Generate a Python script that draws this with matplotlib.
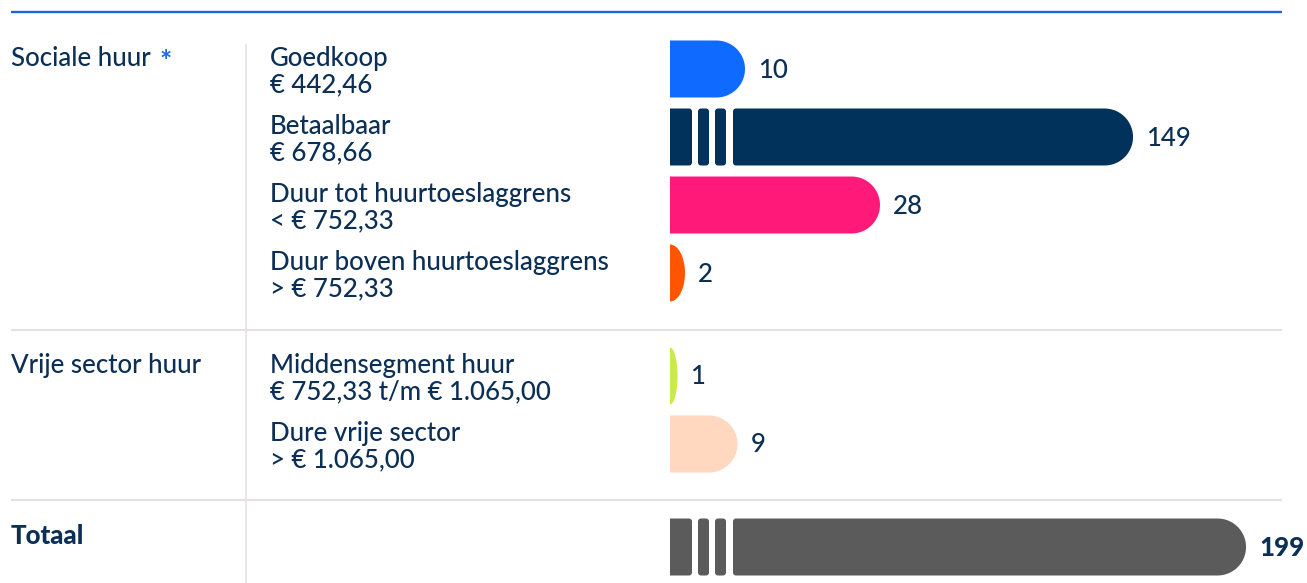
import numpy as np
import matplotlib.pyplot as plt
from matplotlib.patches import Polygon

plt.rcParams['font.family'] = ['Lato', 'DejaVu Sans']

# Data
groups = ["Sociale huur", "Vrije sector huur", "Totaal"]
group_of_row = [0, 0, 0, 0, 1, 1, 2]
categories = ["Goedkoop", "Betaalbaar", "Duur tot huurtoeslaggrens",
              "Duur boven huurtoeslaggrens", "Middensegment huur",
              "Dure vrije sector", ""]
price_labels = ["€ 442,46", "€ 678,66", "< € 752,33", "> € 752,33",
                "€ 752,33 t/m € 1.065,00", "> € 1.065,00", ""]
values = [10, 149, 28, 2, 1, 9, 199]
colors = ["#0f6bff", "#00325b", "#ff1a7a", "#ff5500", "#c9ea4b", "#ffd8bf", "#5b5b5b"]

text_color = "#0b2f55"
grid_color = "#e6e1e1"
FS = 18.6

# Layout (pixels)
W, H = 1307, 583
PX = 7.5                 # pixels per unit on the bar scale
BREAK_AT = 100           # values above this get a broken (compressed) bar
BREAK_BASE, BREAK_SLOPE = 126.3, 2.26
BAR_H = 57
row_y = [69 + 68 * i + 35 * g for i, g in enumerate(group_of_row)]

fig = plt.figure(figsize=(W / 100, H / 100), dpi=100)
bg = fig.add_axes([0, 0, 1, 1])
bg.set_xlim(0, W)
bg.set_ylim(H, 0)
bg.axis('off')

ax = fig.add_axes([670 / W, 0, (W - 670) / W, 1])
ax.set_xlim(0, (W - 670) / PX)
ax.set_ylim(H, 0)
ax.axis('off')


def rounded(x0, x1, yt, yb, rl, rr, n=20):
    # polygon in pixel units with elliptic corners (css-like clamping)
    w = x1 - x0
    rrx = min(rr, w)
    rlx = min(rl, max(w - rrx, 0))
    pts = []
    for cx, cy, rx, ry, a0, a1 in [
        (x0 + rlx, yt + rl, rlx, rl, 180, 270),
        (x1 - rrx, yt + rr, rrx, rr, 270, 360),
        (x1 - rrx, yb - rr, rrx, rr, 0, 90),
        (x0 + rlx, yb - rl, rlx, rl, 90, 180),
    ]:
        t = np.radians(np.linspace(a0, a1, n))
        pts.append(np.column_stack([cx + rx * np.cos(t), cy + ry * np.sin(t)]))
    return np.vstack(pts)


def draw_bar(yc, length_px, color, broken):
    yt, yb = yc - BAR_H / 2, yc + BAR_H / 2
    r_end = BAR_H / 2
    if broken:
        segs = [(0, 22, 0, 3), (28, 39, 3, 3), (45, 56, 3, 3), (63, length_px, 3, r_end)]
    else:
        segs = [(0, length_px, 0, r_end)]
    for x0, x1, rl, rr in segs:
        p = rounded(x0, x1, yt, yb, rl, rr)
        p[:, 0] /= PX
        ax.add_patch(Polygon(p, closed=True, facecolor=color, edgecolor='none'))


for i, v in enumerate(values):
    broken = v > BREAK_AT
    length = BREAK_BASE + BREAK_SLOPE * v if broken else v * PX
    draw_bar(row_y[i], length, colors[i], broken)
    bold = group_of_row[i] == 2
    ax.text((length + 13) / PX, row_y[i] + 1, str(v), color=text_color,
            fontsize=FS, fontweight='black' if bold else 'medium',
            va='center', ha='left')

    # category labels
    bg.text(270, row_y[i] - 3, categories[i], color=text_color, fontsize=FS,
            fontweight='medium', va='baseline', ha='left')
    bg.text(270, row_y[i] + 23, price_labels[i], color=text_color, fontsize=FS,
            fontweight='medium', va='baseline', ha='left')

# group labels
first_rows = [group_of_row.index(g) for g in range(len(groups))]
for g, r in enumerate(first_rows):
    bold = g == 2
    bg.text(11, row_y[r] - 3, groups[g], color=text_color, fontsize=FS,
            fontweight='black' if bold else 'medium', va='baseline', ha='left')
bg.text(160, row_y[0] + 1, "*", color="#1a6ae8", fontsize=FS + 2,
        fontweight='bold', va='baseline', ha='left')

# rules
bg.plot([11, 1282], [12, 12], color="#1a66e8", lw=1.7, solid_capstyle='butt')
for yy in [330, 500]:
    bg.plot([11, 1282], [yy, yy], color=grid_color, lw=1.5, solid_capstyle='butt')
bg.plot([246, 246], [45, H], color=grid_color, lw=1.2)

fig.savefig("out.png", dpi=100)
